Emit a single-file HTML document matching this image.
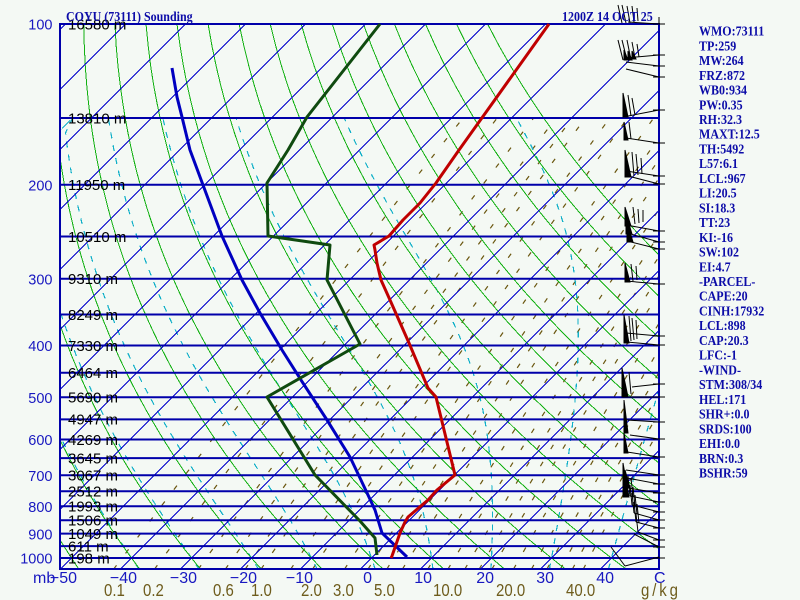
<!DOCTYPE html>
<html><head><meta charset="utf-8">
<style>
html,body{margin:0;padding:0;background:#f4f9f4;overflow:hidden;}
svg{display:block;}
.hl{font-family:"Liberation Sans",sans-serif;font-size:15px;fill:#000;}
.pl{font-family:"Liberation Sans",sans-serif;font-size:14.5px;fill:#1818c0;}
.tl{font-family:"Liberation Sans",sans-serif;font-size:16px;fill:#1818c0;}
.ml{font-family:"Liberation Sans",sans-serif;font-size:15px;fill:#6e5c1c;}
.rp{font-family:"Liberation Serif",serif;font-weight:bold;font-size:12px;fill:#0c0ca8;}
</style></head><body>
<svg width="800" height="600" viewBox="0 0 800 600" xmlns="http://www.w3.org/2000/svg">
<rect width="800" height="600" fill="#f4f9f4"/>
<defs><clipPath id="c"><rect x="60" y="24" width="599" height="545"/></clipPath></defs>
<g clip-path="url(#c)">
  <g id="mr" fill="none" stroke="#6a560e" stroke-width="1.2" stroke-dasharray="5 15"></g>
  <g id="ma" fill="none" stroke="#10b0c8" stroke-width="1.2" stroke-dasharray="6 7" shape-rendering="crispEdges"></g>
  <g id="da" fill="none" stroke="#10b010" stroke-width="1" shape-rendering="crispEdges"></g>
  <g stroke="#0000cc" stroke-width="1" shape-rendering="crispEdges">
    <line x1="-479.5" y1="569" x2="65.5" y2="24"/>
    <line x1="-419.5" y1="569" x2="125.5" y2="24"/>
    <line x1="-359.5" y1="569" x2="185.5" y2="24"/>
    <line x1="-299.5" y1="569" x2="245.5" y2="24"/>
    <line x1="-239.5" y1="569" x2="305.5" y2="24"/>
    <line x1="-179.5" y1="569" x2="365.5" y2="24"/>
    <line x1="-119.5" y1="569" x2="425.5" y2="24"/>
    <line x1="-59.5" y1="569" x2="485.5" y2="24"/>
    <line x1="0.5" y1="569" x2="545.5" y2="24"/>
    <line x1="60.5" y1="569" x2="605.5" y2="24"/>
    <line x1="120.5" y1="569" x2="665.5" y2="24"/>
    <line x1="180.5" y1="569" x2="725.5" y2="24"/>
    <line x1="240.5" y1="569" x2="785.5" y2="24"/>
    <line x1="300.5" y1="569" x2="845.5" y2="24"/>
    <line x1="360.5" y1="569" x2="905.5" y2="24"/>
    <line x1="420.5" y1="569" x2="965.5" y2="24"/>
    <line x1="480.5" y1="569" x2="1025.5" y2="24"/>
    <line x1="540.5" y1="569" x2="1085.5" y2="24"/>
    <line x1="600.5" y1="569" x2="1145.5" y2="24"/>
  </g>
  <g stroke="#0000aa" stroke-width="2">
    <line x1="60" y1="118" x2="659" y2="118"/>
    <line x1="60" y1="184.75" x2="659" y2="184.75"/>
    <line x1="60" y1="236.5" x2="659" y2="236.5"/>
    <line x1="60" y1="278.8" x2="659" y2="278.8"/>
    <line x1="60" y1="314.5" x2="659" y2="314.5"/>
    <line x1="60" y1="345.5" x2="659" y2="345.5"/>
    <line x1="60" y1="372.8" x2="659" y2="372.8"/>
    <line x1="60" y1="397.25" x2="659" y2="397.25"/>
    <line x1="60" y1="419.35" x2="659" y2="419.35"/>
    <line x1="60" y1="439.5" x2="659" y2="439.5"/>
    <line x1="60" y1="458.1" x2="659" y2="458.1"/>
    <line x1="60" y1="475.3" x2="659" y2="475.3"/>
    <line x1="60" y1="491.3" x2="659" y2="491.3"/>
    <line x1="60" y1="506.25" x2="659" y2="506.25"/>
    <line x1="60" y1="520.3" x2="659" y2="520.3"/>
    <line x1="60" y1="533.6" x2="659" y2="533.6"/>
    <line x1="60" y1="546.1" x2="659" y2="546.1"/>
    <line x1="60" y1="558" x2="659" y2="558"/>
  </g>
</g>
<rect x="60" y="24" width="599" height="545" fill="none" stroke="#0000aa" stroke-width="2"/>

<!-- height labels -->
<g class="hl">
<text x="68" y="29.3">16580 m</text>
<text x="68" y="123.3">13810 m</text>
<text x="68" y="190">11950 m</text>
<text x="68" y="241.8">10510 m</text>
<text x="68" y="284.1">9310 m</text>
<text x="68" y="319.8">8249 m</text>
<text x="68" y="350.8">7330 m</text>
<text x="68" y="378.1">6464 m</text>
<text x="68" y="402.5">5690 m</text>
<text x="68" y="424.6">4947 m</text>
<text x="68" y="444.8">4269 m</text>
<text x="68" y="463.4">3645 m</text>
<text x="68" y="480.6">3067 m</text>
<text x="68" y="496.6">2512 m</text>
<text x="68" y="511.5">1993 m</text>
<text x="68" y="525.6">1506 m</text>
<text x="68" y="538.9">1049 m</text>
<text x="68" y="551.4">611 m</text>
<text x="68" y="563.3">198 m</text>
</g>

<!-- sounding curves -->
<polyline fill="none" stroke="#0000c0" stroke-width="3" stroke-linejoin="round" points="172,68 177,97 182,117 190,150 203,185 222,236 242,280 260,313 282,350 301,380 327,420 350,457 360,478 368,495 375,510 382,533 407,557"/>
<polyline fill="none" stroke="#0f4a0f" stroke-width="3" stroke-linejoin="round" points="380,24 307,117 288,150 267,183 268,236 330,245 327,280 360,344 267,397 315,475 360,521 375,538 377,555"/>
<polyline fill="none" stroke="#c00000" stroke-width="3" stroke-linejoin="round" points="549,24 459,150 436,183 432,188 420,203 403,220 389,236 374,245 375,250 377,263 381,280 390,300 409,343 428,388 436,397 455,475 437,490 428,500 408,517 405,522 400,533 392,556 391,558"/>

<!-- wind barbs -->
<g stroke="#000" stroke-width="1" fill="#000">
  <g>
    <line x1="659" y1="17" x2="659" y2="24"/>
    <line x1="653" y1="24" x2="665" y2="24"/><line x1="653" y1="55" x2="665" y2="55"/><line x1="653" y1="66" x2="665" y2="66"/><line x1="653" y1="77" x2="665" y2="77"/>
    <line x1="653" y1="110" x2="665" y2="110"/><line x1="653" y1="143" x2="665" y2="143"/><line x1="653" y1="176" x2="665" y2="176"/><line x1="653" y1="184" x2="665" y2="184"/>
    <line x1="653" y1="231" x2="665" y2="231"/><line x1="653" y1="242" x2="665" y2="242"/><line x1="653" y1="249" x2="665" y2="249"/><line x1="653" y1="284" x2="665" y2="284"/>
    <line x1="653" y1="336" x2="665" y2="336"/><line x1="653" y1="345" x2="665" y2="345"/><line x1="653" y1="384" x2="665" y2="384"/><line x1="653" y1="397" x2="665" y2="397"/>
    <line x1="653" y1="422" x2="665" y2="422"/><line x1="653" y1="439" x2="665" y2="439"/><line x1="653" y1="457" x2="665" y2="457"/><line x1="653" y1="475" x2="665" y2="475"/>
    <line x1="653" y1="484" x2="665" y2="484"/><line x1="653" y1="493" x2="665" y2="493"/><line x1="653" y1="502" x2="665" y2="502"/><line x1="653" y1="512" x2="665" y2="512"/>
    <line x1="653" y1="520" x2="665" y2="520"/><line x1="653" y1="528" x2="665" y2="528"/><line x1="653" y1="540" x2="665" y2="540"/><line x1="653" y1="547" x2="665" y2="547"/>
    <line x1="653" y1="558" x2="665" y2="558"/>
  </g>
  <!-- top -->
  <line x1="659" y1="24" x2="628" y2="22"/>
  <line x1="622" y1="23" x2="618" y2="5"/><line x1="626" y1="23" x2="622" y2="5"/><line x1="630" y1="23" x2="627" y2="6"/><line x1="634" y1="22" x2="632" y2="6"/><line x1="638" y1="21" x2="637" y2="8"/>
  <!-- cluster 2 -->
  <line x1="659" y1="55" x2="625" y2="58"/><line x1="659" y1="66" x2="626" y2="62"/><line x1="659" y1="77" x2="626" y2="69"/>
  <line x1="623" y1="60" x2="618" y2="40"/><line x1="627" y1="60" x2="622" y2="40"/><line x1="631" y1="60" x2="627" y2="40"/><line x1="635" y1="58" x2="632" y2="42"/><line x1="639" y1="57" x2="637" y2="44"/>
  <polygon points="624,60 628,60 624,50"/><polygon points="628,60 632,60 628,51"/><polygon points="632,59 636,59 632,51"/>
  <!-- cluster 3 -->
  <line x1="659" y1="110" x2="623" y2="117"/>
  <polygon points="623,117 628,117 623,93"/>
  <line x1="631" y1="116" x2="628" y2="95"/><line x1="635" y1="115" x2="632" y2="98"/>
  <line x1="659" y1="143" x2="626" y2="138"/>
  <polygon points="624,140 628,140 624,122"/>
  <line x1="631" y1="139" x2="629" y2="122"/>
  <!-- cluster 5 -->
  <line x1="659" y1="176" x2="626" y2="171"/><line x1="659" y1="184" x2="628" y2="176"/>
  <polygon points="625,177 631,177 625,150"/>
  <line x1="634" y1="176" x2="632" y2="152"/><line x1="638" y1="175" x2="636" y2="154"/><line x1="642" y1="174" x2="641" y2="158"/>
  <!-- cluster 6 -->
  <line x1="659" y1="231" x2="626" y2="225"/><line x1="659" y1="242" x2="627" y2="233"/><line x1="659" y1="249" x2="627" y2="241"/>
  <polygon points="625,226 631,226 625,207"/><polygon points="626,234 632,234 626,214"/><polygon points="627,242 633,242 627,222"/>
  <line x1="635" y1="224" x2="633" y2="207"/><line x1="639" y1="223" x2="638" y2="209"/><line x1="643" y1="222" x2="643" y2="210"/>
  <!-- cluster 7 -->
  <line x1="659" y1="284" x2="626" y2="281"/>
  <polygon points="625,282 630,282 625,263"/>
  <line x1="633" y1="281" x2="631" y2="264"/><line x1="637" y1="280" x2="636" y2="266"/>
  <!-- cluster 8 -->
  <line x1="659" y1="336" x2="626" y2="333"/><line x1="659" y1="345" x2="627" y2="342"/>
  <polygon points="624,343 629,343 624,315"/>
  <line x1="631" y1="341" x2="629" y2="316"/><line x1="634" y1="340" x2="632" y2="318"/><line x1="637" y1="339" x2="636" y2="320"/>
  <!-- cluster 9 -->
  <line x1="659" y1="384" x2="632" y2="387"/><line x1="659" y1="397" x2="624" y2="397"/>
  <polygon points="622,397 628,397 622,368"/>
  <line x1="631" y1="394" x2="629" y2="372"/>
  <!-- cluster 10 -->
  <line x1="659" y1="422" x2="627" y2="420"/><line x1="659" y1="439" x2="630" y2="435"/>
  <polygon points="624,433 628,433 624,400"/>
  <line x1="659" y1="457" x2="627" y2="452"/>
  <polygon points="624,453 628,453 624,433"/>
  <!-- cluster 12 -->
  <line x1="659" y1="475" x2="626" y2="470"/><line x1="659" y1="484" x2="627" y2="478"/><line x1="659" y1="493" x2="628" y2="488"/>
  <polygon points="623,497 629,497 623,463"/><polygon points="625,488 630,488 625,470"/>
  <!-- cluster 13 -->
  <line x1="659" y1="502" x2="630" y2="496"/><line x1="659" y1="512" x2="632" y2="505"/><line x1="659" y1="520" x2="634" y2="513"/>
  <line x1="659" y1="528" x2="636" y2="522"/><line x1="659" y1="540" x2="638" y2="532"/><line x1="659" y1="547" x2="634" y2="534"/>
  <line x1="630" y1="496" x2="628" y2="476"/><line x1="633" y1="497" x2="631" y2="478"/>
  <line x1="632" y1="505" x2="630" y2="485"/><line x1="635" y1="506" x2="633" y2="487"/>
  <line x1="634" y1="513" x2="632" y2="493"/><line x1="637" y1="514" x2="635" y2="495"/>
  <line x1="636" y1="522" x2="634" y2="502"/><line x1="639" y1="523" x2="637" y2="504"/>
  <line x1="638" y1="532" x2="636" y2="514"/>
  <!-- bottom -->
  <line x1="659" y1="557" x2="625" y2="566"/><line x1="625" y1="566" x2="611" y2="547"/>
</g>

<!-- pressure labels -->
<g class="pl" text-anchor="end">
<text x="52.5" y="29.7">100</text>
<text x="52.5" y="190.5">200</text>
<text x="52.5" y="284.5">300</text>
<text x="52.5" y="351.2">400</text>
<text x="52.5" y="403">500</text>
<text x="52.5" y="445.2">600</text>
<text x="52.5" y="481">700</text>
<text x="52.5" y="512">800</text>
<text x="52.5" y="539.3">900</text>
<text x="52.5" y="563.7">1000</text>
</g>

<!-- temperature labels -->
<g class="tl">
<text x="33" y="583">mb</text>
<g text-anchor="end">
<text x="77" y="583">−50</text>
<text x="137" y="583">−40</text>
<text x="197" y="583">−30</text>
<text x="257" y="583">−20</text>
<text x="313" y="583">−10</text>
<text x="372" y="583">0</text>
<text x="432" y="583">10</text>
<text x="494" y="583">20</text>
<text x="554" y="583">30</text>
<text x="614" y="583">40</text>
</g>
<text x="654" y="583">C</text>
</g>

<!-- mixing ratio labels -->
<g class="ml">
<text transform="translate(104,596) scale(1,1.2)">0.1</text>
<text transform="translate(143,596) scale(1,1.2)">0.2</text>
<text transform="translate(213,596) scale(1,1.2)">0.6</text>
<text transform="translate(251,596) scale(1,1.2)">1.0</text>
<text transform="translate(301,596) scale(1,1.2)">2.0</text>
<text transform="translate(333,596) scale(1,1.2)">3.0</text>
<text transform="translate(374,596) scale(1,1.2)">5.0</text>
<text transform="translate(433,596) scale(1,1.2)">10.0</text>
<text transform="translate(496,596) scale(1,1.2)">20.0</text>
<text transform="translate(566,596) scale(1,1.2)">40.0</text>
<text transform="translate(641,596) scale(1,1.2)" textLength="37" lengthAdjust="spacing">g/kg</text>
</g>

<!-- titles -->
<g class="rp">
<text transform="translate(66,21) scale(1,1.15)">COYU (73111) Sounding</text>
<text transform="translate(562,21) scale(1,1.15)">1200Z 14 OCT 25</text>
</g>

<!-- right panel -->
<g class="rp">
<text transform="translate(699,35.6) scale(1,1.18)">WMO:73111</text>
<text transform="translate(699,50.3) scale(1,1.18)">TP:259</text>
<text transform="translate(699,65.1) scale(1,1.18)">MW:264</text>
<text transform="translate(699,79.8) scale(1,1.18)">FRZ:872</text>
<text transform="translate(699,94.5) scale(1,1.18)">WB0:934</text>
<text transform="translate(699,109.3) scale(1,1.18)">PW:0.35</text>
<text transform="translate(699,124) scale(1,1.18)">RH:32.3</text>
<text transform="translate(699,138.7) scale(1,1.18)">MAXT:12.5</text>
<text transform="translate(699,153.4) scale(1,1.18)">TH:5492</text>
<text transform="translate(699,168.2) scale(1,1.18)">L57:6.1</text>
<text transform="translate(699,182.9) scale(1,1.18)">LCL:967</text>
<text transform="translate(699,197.6) scale(1,1.18)">LI:20.5</text>
<text transform="translate(699,212.4) scale(1,1.18)">SI:18.3</text>
<text transform="translate(699,227.1) scale(1,1.18)">TT:23</text>
<text transform="translate(699,241.8) scale(1,1.18)">KI:-16</text>
<text transform="translate(699,256.6) scale(1,1.18)">SW:102</text>
<text transform="translate(699,271.3) scale(1,1.18)">EI:4.7</text>
<text transform="translate(699,286) scale(1,1.18)">-PARCEL-</text>
<text transform="translate(699,300.7) scale(1,1.18)">CAPE:20</text>
<text transform="translate(699,315.5) scale(1,1.18)">CINH:17932</text>
<text transform="translate(699,330.2) scale(1,1.18)">LCL:898</text>
<text transform="translate(699,344.9) scale(1,1.18)">CAP:20.3</text>
<text transform="translate(699,359.7) scale(1,1.18)">LFC:-1</text>
<text transform="translate(699,374.4) scale(1,1.18)">-WIND-</text>
<text transform="translate(699,389.1) scale(1,1.18)">STM:308/34</text>
<text transform="translate(699,403.9) scale(1,1.18)">HEL:171</text>
<text transform="translate(699,418.6) scale(1,1.18)">SHR+:0.0</text>
<text transform="translate(699,433.3) scale(1,1.18)">SRDS:100</text>
<text transform="translate(699,448) scale(1,1.18)">EHI:0.0</text>
<text transform="translate(699,462.8) scale(1,1.18)">BRN:0.3</text>
<text transform="translate(699,477.5) scale(1,1.18)">BSHR:59</text>
</g>
</svg>
<script>
(function(){
var NS="http://www.w3.org/2000/svg";
function Y(p){return 24+534*Math.log(p/100)/Math.LN10;}
function X(T,y){return 360.5+6*T+(569-y);}
function add(g,pts){var e=document.createElementNS(NS,"polyline");e.setAttribute("points",pts.map(function(q){return q[0].toFixed(1)+","+q[1].toFixed(1);}).join(" "));g.appendChild(e);}
var da=document.getElementById("da"),ma=document.getElementById("ma"),mr=document.getElementById("mr");
var th,p,T,y,pts;
for(th=-50;th<=120;th+=10){pts=[];for(p=1050;p>=100;p-=10){T=(th+273.15)*Math.pow(p/1000,0.286)-273.15;y=Y(p);pts.push([X(T,y),y]);}add(da,pts);}
function es(Tc){return 6.112*Math.exp(17.67*Tc/(Tc+243.5));}
function the(Tk,p){var e=es(Tk-273.15);if(e>0.5*p)return 1e9;var r=622*e/(p-e);return Tk*Math.pow(1000/p,0.2854*(1-0.00028*r))*Math.exp((3.376/Tk-0.00254)*r*(1+0.00081*r));}
for(var tw=-40;tw<=40;tw+=10){var tg=the(tw+273.15,1000);pts=[];for(p=1050;p>=150;p-=10){var lo=150,hi=340;for(var i=0;i<40;i++){var m=(lo+hi)/2;if(the(m,p)>tg)hi=m;else lo=m;}T=(lo+hi)/2-273.15;y=Y(p);pts.push([X(T,y),y]);}add(ma,pts);}
var ws=[0.1,0.2,0.4,0.6,0.8,1,1.5,2,3,4,5,6,8,10,12,14,16,20,24,28,32,36,40];
ws.forEach(function(w){pts=[];for(p=1050;p>=150;p-=25){var e=w*p/(622+w);var L=Math.log(e/6.112);T=243.5*L/(17.67-L);y=Y(p);pts.push([X(T,y),y]);}add(mr,pts);});
})();
</script>
</body></html>
